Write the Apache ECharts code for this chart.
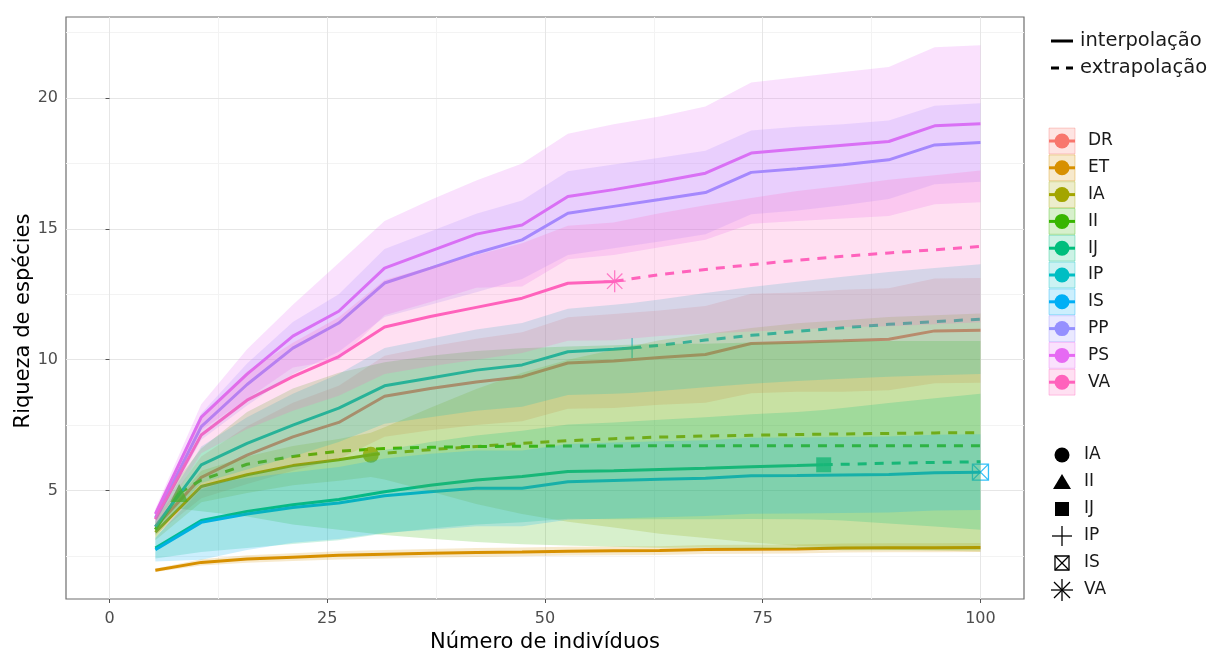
<!DOCTYPE html>
<html>
<head>
<meta charset="utf-8">
<script src="https://cdn.jsdelivr.net/npm/echarts@6/dist/echarts.min.js"></script>
<style>
  html, body { margin: 0; padding: 0; background: #ffffff; }
  #chart { width: 1212px; height: 651px; }
</style>
</head>
<body>
<div id="chart"></div>
<script>
// Rarefaction (solid) and extrapolation (dashed) curves of species richness
// with 95% confidence bands, one curve per sampling site.

// Sample sizes at which the curves are evaluated
const knots = [5.26, 10.53, 15.79, 21.05, 26.32, 31.58, 36.84, 42.11, 47.37, 52.63,
               57.89, 63.16, 68.42, 73.68, 78.95, 84.21, 89.47, 94.74, 100];

const xTicks = [0, 25, 50, 75, 100];
const xMinorTicks = [12.5, 37.5, 62.5, 87.5];
const yTicks = [5, 10, 15, 20];
const yMinorTicks = [2.5, 7.5, 12.5, 17.5, 22.5];

const groupNames = ['DR', 'ET', 'IA', 'II', 'IJ', 'IP', 'IS', 'PP', 'PS', 'VA'];
const groupColors = ['#F8766D', '#D89000', '#A3A500', '#39B600', '#00BF7D',
                     '#00BFC4', '#00B0F6', '#9590FF', '#E76BF3', '#FF62BC'];

// Observed (reference) sample of each site
const refSize     = [100, 100, 30, 8, 82, 60, 100, 100, 100, 58];
const refRichness = [11.12, 2.82, 6.36, 4.9, 5.98, 10.45, 5.7, 18.3, 19.02, 13.0];
const refLower    = [9.12, 2.65, 5.51, 4.3, 3.88, 8.73, 4.25, 16.8, 16.02, 10.75];
const refUpper    = [13.12, 2.99, 7.21, 5.5, 8.08, 12.17, 7.15, 19.8, 22.02, 15.25];

// Estimated richness at each knot
const richnessDR = [3.6, 5.5, 6.35, 7.05, 7.6, 8.6, 8.9, 9.15, 9.35, 9.87, 9.95, 10.08, 10.2, 10.62, 10.67, 10.72, 10.78, 11.1, 11.12];
const richnessET = [1.95, 2.25, 2.38, 2.45, 2.52, 2.56, 2.6, 2.63, 2.65, 2.68, 2.69, 2.7, 2.74, 2.75, 2.76, 2.8, 2.81, 2.81, 2.82];
const richnessIA = [3.4, 5.15, 5.6, 5.95, 6.17, 6.42, 6.56, 6.68, 6.8, 6.9, 6.98, 7.04, 7.08, 7.11, 7.14, 7.16, 7.18, 7.2, 7.21];
const richnessII = [3.5, 5.4, 6.0, 6.3, 6.5, 6.6, 6.65, 6.68, 6.69, 6.7, 6.7, 6.71, 6.71, 6.71, 6.71, 6.71, 6.71, 6.71, 6.71];
const richnessIJ = [2.8, 3.85, 4.2, 4.45, 4.65, 4.95, 5.2, 5.4, 5.53, 5.72, 5.75, 5.8, 5.85, 5.91, 5.95, 6.0, 6.04, 6.07, 6.1];
const richnessIP = [3.62, 5.98, 6.8, 7.5, 8.15, 9.0, 9.3, 9.6, 9.8, 10.3, 10.4, 10.55, 10.75, 10.93, 11.08, 11.22, 11.35, 11.45, 11.55];
const richnessIS = [2.73, 3.78, 4.1, 4.35, 4.52, 4.8, 4.95, 5.08, 5.08, 5.33, 5.38, 5.43, 5.47, 5.56, 5.57, 5.59, 5.61, 5.68, 5.7];
const richnessPP = [3.95, 7.44, 9.05, 10.44, 11.4, 12.93, 13.5, 14.08, 14.58, 15.6, 15.86, 16.12, 16.39, 17.16, 17.3, 17.45, 17.64, 18.21, 18.3];
const richnessPS = [4.1, 7.8, 9.45, 10.9, 11.85, 13.5, 14.15, 14.8, 15.15, 16.24, 16.5, 16.8, 17.13, 17.9, 18.05, 18.2, 18.34, 18.94, 19.02];
const richnessVA = [3.9, 7.12, 8.45, 9.35, 10.12, 11.25, 11.65, 12.0, 12.35, 12.92, 12.99, 13.25, 13.45, 13.63, 13.8, 13.95, 14.08, 14.2, 14.33];

// Lower confidence limits at each knot
const lowerDR = [3.3, 4.7, 5.25, 5.75, 6.2, 7.05, 7.3, 7.5, 7.65, 8.12, 8.15, 8.28, 8.35, 8.72, 8.77, 8.77, 8.83, 9.1, 9.12];
const lowerET = [1.88, 2.13, 2.24, 2.3, 2.36, 2.4, 2.44, 2.46, 2.48, 2.51, 2.52, 2.53, 2.57, 2.58, 2.59, 2.63, 2.64, 2.64, 2.65];
const lowerIA = [3.1, 4.55, 4.9, 5.2, 5.37, 5.42, 4.96, 4.48, 4.1, 3.8, 3.58, 3.34, 3.18, 3.01, 2.89, 2.81, 2.73, 2.7, 2.66];
const lowerII = [3.2, 4.2, 4.0, 3.7, 3.5, 3.3, 3.15, 3.03, 2.94, 2.9, 2.85, 2.81, 2.81, 2.76, 2.76, 2.71, 2.71, 2.71, 2.71];
const lowerIJ = [2.4, 2.65, 2.8, 2.95, 3.1, 3.35, 3.55, 3.7, 3.78, 3.92, 3.9, 3.9, 3.9, 3.91, 3.9, 3.85, 3.74, 3.62, 3.5];
const lowerIP = [3.32, 5.28, 5.8, 6.3, 6.85, 7.55, 7.8, 8.05, 8.2, 8.65, 8.7, 8.8, 8.95, 9.08, 9.18, 9.27, 9.35, 9.4, 9.45];
const lowerIS = [2.28, 2.35, 2.72, 3.0, 3.14, 3.38, 3.5, 3.63, 3.63, 3.88, 3.93, 3.98, 4.02, 4.11, 4.12, 4.14, 4.16, 4.23, 4.25];
const lowerPP = [3.75, 6.94, 8.25, 9.44, 10.3, 11.63, 12.1, 12.58, 13.08, 14.0, 14.26, 14.52, 14.79, 15.56, 15.7, 15.9, 16.14, 16.71, 16.8];
const lowerPS = [3.9, 7.3, 8.5, 9.7, 10.0, 11.7, 12.2, 12.75, 12.8, 13.84, 14.0, 14.3, 14.58, 15.2, 15.3, 15.4, 15.49, 15.94, 16.02];
const lowerVA = [3.6, 6.42, 7.35, 8.05, 8.62, 9.45, 9.75, 10.0, 10.25, 10.72, 10.74, 10.9, 11.0, 11.08, 11.15, 11.25, 11.28, 11.35, 11.43];

// Upper confidence limits at each knot
const upperDR = [3.9, 6.3, 7.45, 8.35, 9.0, 10.15, 10.5, 10.8, 11.05, 11.62, 11.75, 11.88, 12.05, 12.52, 12.57, 12.67, 12.73, 13.1, 13.12];
const upperET = [2.02, 2.37, 2.52, 2.6, 2.68, 2.72, 2.76, 2.8, 2.82, 2.85, 2.86, 2.87, 2.91, 2.92, 2.93, 2.97, 2.98, 2.98, 2.99];
const upperIA = [3.7, 5.75, 6.3, 6.7, 6.97, 7.42, 8.16, 8.88, 9.5, 10.0, 10.38, 10.74, 10.98, 11.21, 11.39, 11.51, 11.63, 11.7, 11.76];
const upperII = [3.8, 6.6, 8.0, 8.9, 9.5, 9.9, 10.15, 10.33, 10.44, 10.5, 10.55, 10.61, 10.61, 10.66, 10.66, 10.71, 10.71, 10.71, 10.71];
const upperIJ = [3.2, 5.05, 5.6, 5.95, 6.2, 6.55, 6.85, 7.1, 7.28, 7.52, 7.6, 7.7, 7.8, 7.91, 8.0, 8.15, 8.34, 8.52, 8.7];
const upperIP = [3.92, 6.68, 7.8, 8.7, 9.45, 10.45, 10.8, 11.15, 11.4, 11.95, 12.1, 12.3, 12.55, 12.78, 12.98, 13.17, 13.35, 13.5, 13.65];
const upperIS = [3.18, 5.21, 5.48, 5.7, 5.9, 6.22, 6.4, 6.53, 6.53, 6.78, 6.83, 6.88, 6.92, 7.01, 7.02, 7.04, 7.06, 7.13, 7.15];
const upperPP = [4.15, 7.94, 9.85, 11.44, 12.5, 14.23, 14.9, 15.58, 16.08, 17.2, 17.46, 17.72, 17.99, 18.76, 18.9, 19.0, 19.14, 19.71, 19.8];
const upperPS = [4.3, 8.3, 10.4, 12.1, 13.7, 15.3, 16.1, 16.85, 17.5, 18.64, 19.0, 19.3, 19.68, 20.6, 20.8, 21.0, 21.19, 21.94, 22.02];
const upperVA = [4.2, 7.82, 9.55, 10.65, 11.62, 13.05, 13.55, 14.0, 14.45, 15.12, 15.24, 15.6, 15.9, 16.18, 16.45, 16.65, 16.88, 17.05, 17.23];

const richness = [richnessDR, richnessET, richnessIA, richnessII, richnessIJ, richnessIP, richnessIS, richnessPP, richnessPS, richnessVA];
const lowers   = [lowerDR, lowerET, lowerIA, lowerII, lowerIJ, lowerIP, lowerIS, lowerPP, lowerPS, lowerVA];
const uppers   = [upperDR, upperET, upperIA, upperII, upperIJ, upperIP, upperIS, upperPP, upperPS, upperVA];

// Only six shapes are available, so only these sites get a reference marker
const shapeGroups = ['IA', 'II', 'IJ', 'IP', 'IS', 'VA'];
const shapeSymbols = [
  'circle',
  'triangle',
  'rect',
  'path://M10,0 L10,20 M0,10 L20,10',
  'path://M0,0 L20,0 L20,20 L0,20 Z M0,0 L20,20 M20,0 L0,20',
  'path://M10,0 L10,20 M0,10 L20,10 M3,3 L17,17 M17,3 L3,17'
];
const lineTypeLabels = ['interpolação', 'extrapolação'];

function rgba(hex, a) {
  const n = parseInt(hex.slice(1), 16);
  return 'rgba(' + ((n >> 16) & 255) + ',' + ((n >> 8) & 255) + ',' + (n & 255) + ',' + a + ')';
}

// Merge the knot values with the reference point of a site, sorted by size
function sitePoints(g) {
  const pts = knots.map((x, i) => [x, richness[g][i], lowers[g][i], uppers[g][i]]);
  if (!knots.includes(refSize[g])) {
    pts.push([refSize[g], refRichness[g], refLower[g], refUpper[g]]);
  }
  pts.sort((a, b) => a[0] - b[0]);
  return pts;
}

const FONT = 'DejaVu Sans';
const series = [];

// Background grid drawn through the axis scales, underneath everything else
const gridLine = (c) => ({ lineStyle: { color: c, width: 1, type: 'solid' } });
series.push({
  type: 'line', data: [], silent: true, z: 0, animation: false,
  markLine: {
    z: 0, silent: true, animation: false, symbol: ['none', 'none'], label: { show: false },
    data: [].concat(
      xMinorTicks.map(v => Object.assign({ xAxis: v }, gridLine('#f3f3f3'))),
      yMinorTicks.map(v => Object.assign({ yAxis: v }, gridLine('#f3f3f3'))),
      xTicks.map(v => Object.assign({ xAxis: v }, gridLine('#e6e6e6'))),
      yTicks.map(v => Object.assign({ yAxis: v }, gridLine('#e6e6e6')))
    )
  }
});

groupNames.forEach((name, g) => {
  const pts = sitePoints(g);
  const color = groupColors[g];
  const interp = pts.filter(p => p[0] <= refSize[g]).map(p => [p[0], p[1]]);
  const extrap = pts.filter(p => p[0] >= refSize[g]).map(p => [p[0], p[1]]);

  series.push({
    name: name, type: 'line', data: interp, showSymbol: false, z: 2,
    lineStyle: { color: color, width: 3 }, animation: false, silent: true
  });
  if (extrap.length > 1) {
    series.push({
      name: name, type: 'line', data: extrap, showSymbol: false, z: 2,
      lineStyle: { color: color, width: 3, type: [9, 8] }, animation: false, silent: true
    });
  }

  const s = shapeGroups.indexOf(name);
  if (s >= 0) {
    const open = s >= 3;
    series.push({
      name: name, type: 'scatter', z: 3, animation: false, silent: true,
      data: [[refSize[g], refRichness[g]]],
      symbol: shapeSymbols[s],
      symbolSize: [16, 18, 15, 20, 16, 22][s],
      itemStyle: open
        ? { color: 'rgba(0,0,0,0)', borderColor: color, borderWidth: 1.3 }
        : { color: color }
    });
  }
});

// Confidence bands are painted over the curves, as translucent polygons
groupNames.forEach((name, g) => {
  const pts = sitePoints(g);
  const fill = rgba(groupColors[g], 0.2);
  series.push({
    name: name + ' band', type: 'custom', coordinateSystem: 'cartesian2d',
    z: 4, silent: true, animation: false,
    data: pts.map(p => [p[0], p[2], p[3]]),
    encode: { x: 0, y: [1, 2] },
    renderItem: function (params, api) {
      if (params.dataIndex !== 0) return { type: 'group', children: [] };
      const top = pts.map(p => api.coord([p[0], p[3]]));
      const bottom = pts.slice().reverse().map(p => api.coord([p[0], p[2]]));
      return { type: 'polygon', shape: { points: top.concat(bottom) }, style: { fill: fill } };
    }
  });
});

// Legends on the right-hand side
const graphics = [];
const TXT = '#1a1a1a';
const keyX = 1049, textX = 1084;
const seg = (x1, y1, x2, y2) => ({
  type: 'line', shape: { x1: x1, y1: y1, x2: x2, y2: y2 },
  style: { stroke: '#000', lineWidth: 1.3 }
});

lineTypeLabels.forEach((label, i) => {
  const y = 41 + i * 27;
  graphics.push({
    type: 'line', shape: { x1: keyX + 2, y1: y, x2: keyX + 24, y2: y },
    style: { stroke: '#000', lineWidth: 3, lineDash: i === 1 ? [8, 7] : null }
  });
  graphics.push({
    type: 'text', x: textX - 4, y: y,
    style: { text: label, font: '19.5px "' + FONT + '"', fill: TXT, verticalAlign: 'middle' }
  });
});

groupNames.forEach((name, g) => {
  const cy = 141 + g * 26.8;
  const color = groupColors[g];
  graphics.push({
    type: 'line', shape: { x1: keyX, y1: cy, x2: keyX + 26, y2: cy },
    style: { stroke: color, lineWidth: 3 }
  });
  graphics.push({ type: 'circle', shape: { cx: keyX + 13, cy: cy, r: 7.5 }, style: { fill: color } });
  graphics.push({
    type: 'rect', shape: { x: keyX, y: cy - 12.9, width: 26, height: 25.8 },
    style: { fill: rgba(color, 0.2), stroke: rgba(color, 0.35), lineWidth: 1 }
  });
  graphics.push({
    type: 'text', x: textX + 4, y: cy,
    style: { text: name, font: '17px "' + FONT + '"', fill: TXT, verticalAlign: 'middle' }
  });
});

shapeGroups.forEach((name, s) => {
  const cy = 455 + s * 27;
  const cx = 1062;
  if (s === 0) {
    graphics.push({ type: 'circle', shape: { cx: cx, cy: cy, r: 7.5 }, style: { fill: '#000' } });
  } else if (s === 1) {
    graphics.push({ type: 'polygon', shape: { points: [[cx, cy - 8], [cx + 9, cy + 7], [cx - 9, cy + 7]] }, style: { fill: '#000' } });
  } else if (s === 2) {
    graphics.push({ type: 'rect', shape: { x: cx - 7, y: cy - 7, width: 14, height: 14 }, style: { fill: '#000' } });
  } else if (s === 3) {
    graphics.push(seg(cx, cy - 10, cx, cy + 10), seg(cx - 10, cy, cx + 10, cy));
  } else if (s === 4) {
    graphics.push({ type: 'rect', shape: { x: cx - 7, y: cy - 7, width: 14, height: 14 }, style: { fill: null, stroke: '#000', lineWidth: 1.3 } });
    graphics.push(seg(cx - 7, cy - 7, cx + 7, cy + 7), seg(cx + 7, cy - 7, cx - 7, cy + 7));
  } else {
    graphics.push(seg(cx, cy - 11, cx, cy + 11), seg(cx - 11, cy, cx + 11, cy),
                  seg(cx - 8, cy - 8, cx + 8, cy + 8), seg(cx + 8, cy - 8, cx - 8, cy + 8));
  }
  graphics.push({
    type: 'text', x: textX, y: cy,
    style: { text: name, font: '17px "' + FONT + '"', fill: TXT, verticalAlign: 'middle' }
  });
});

const chart = echarts.init(document.getElementById('chart'), null, { renderer: 'canvas' });
chart.setOption({
  animation: false,
  backgroundColor: '#ffffff',
  grid: {
    left: 66, right: 188, top: 17, bottom: 52, containLabel: false, outerBoundsMode: 'none',
    show: true, backgroundColor: '#ffffff', borderColor: '#6e6e6e', borderWidth: 1.2
  },
  xAxis: {
    type: 'value', min: -5, max: 105,
    axisLine: { show: false },
    axisTick: { show: true, length: 4, lineStyle: { color: '#555' }, customValues: xTicks },
    axisLabel: { customValues: xTicks, color: '#4d4d4d', fontSize: 16, fontFamily: FONT, margin: 12 },
    splitLine: { show: false },
    name: 'Número de indivíduos', nameLocation: 'middle', nameGap: 32,
    nameTextStyle: { color: '#000', fontSize: 21, fontFamily: FONT }
  },
  yAxis: {
    type: 'value', min: 0.85, max: 23.1,
    axisLine: { show: false },
    axisTick: { show: true, length: 4, lineStyle: { color: '#555' }, customValues: yTicks },
    axisLabel: { customValues: yTicks, color: '#4d4d4d', fontSize: 16, fontFamily: FONT, margin: 8 },
    splitLine: { show: false },
    name: 'Riqueza de espécies', nameLocation: 'middle', nameGap: 32, nameMoveOverlap: false,
    nameTextStyle: { color: '#000', fontSize: 21, fontFamily: FONT, padding: [0, 26, 0, 0] }
  },
  series: series,
  graphic: graphics
});
</script>
</body>
</html>
